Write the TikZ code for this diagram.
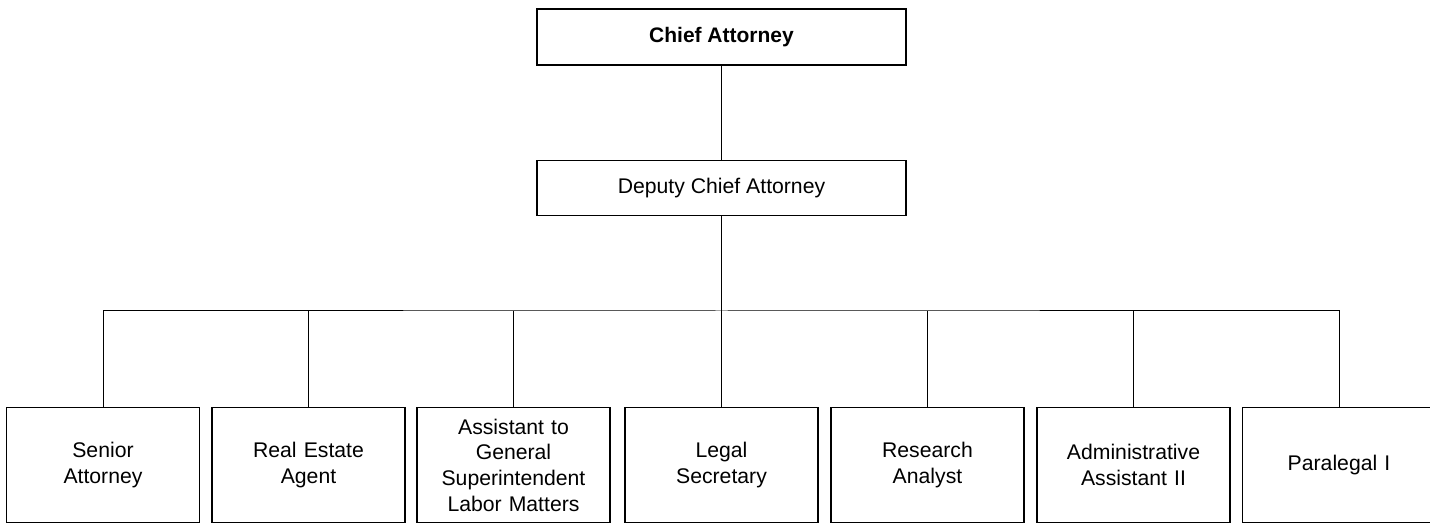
\documentclass[tikz,border=0pt]{standalone}
\usepackage{fontspec}
\setmainfont{Liberation Sans}
\begin{document}
\begin{tikzpicture}[x=1pt,y=1pt,
  post/.style={draw=black,line width=1.3pt,fill=white,align=center,
    font=\fontsize{21.2}{25.7}\selectfont,inner sep=0pt},
  topbox/.style={post,minimum width=369pt,minimum height=56pt},
  staffbox/.style={post,minimum width=193pt,minimum height=115pt,text width=185pt},
  link/.style={draw=black,line width=1pt}]
  \useasboundingbox (0,0) rectangle (1430,524);
  \clip (0,0) rectangle (1430,524);

  % management
  \node[topbox,font=\fontsize{21}{25.7}\selectfont\bfseries] (chief) at (721.5,487) {Chief Attorney};
  \node[topbox,minimum height=55pt] (deputy) at (721.5,336) {Deputy Chief Attorney};

  % staff row
  \node[staffbox] (s1) at (103,59) {Senior\\Attorney};
  \node[staffbox] (s2) at (308.5,59) {Real Estate\\Agent};
  \node[staffbox] (s3) at (513.5,59) {Assistant to\\General\\Superintendent\\Labor Matters};
  \node[staffbox] (s4) at (721.5,59) {Legal\\Secretary};
  \node[staffbox] (s5) at (927.5,59) {Research\\Analyst};
  \node[staffbox] (s6) at (1133.5,59) {Administrative\\Assistant II};
  \node[staffbox] (s7) at (1339,59) {Paralegal I};

  % connectors
  \coordinate (bus) at (721.5,213);
  \draw[link] (chief.south) -- (deputy.north);
  \draw[link] (deputy.south) -- (bus);
  \draw[link] (s1.north) |- (bus) -| (s7.north);
  \foreach \s in {s2,s3,s4,s5,s6}
    \draw[link] (\s.north) -- (\s.north |- bus);
\end{tikzpicture}
\end{document}
